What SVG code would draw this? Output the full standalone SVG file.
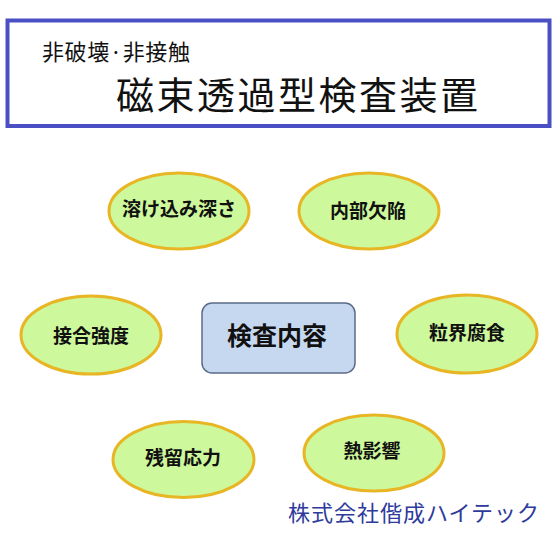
<svg xmlns="http://www.w3.org/2000/svg" width="560" height="560" viewBox="0 0 560 560">
<style>
  text { font-family: "Noto Sans CJK JP", "Noto Sans", sans-serif; }
  .item ellipse { fill: #cdf89b; stroke: #e8b624; stroke-width: 3; }
  .item text { font-size: 19px; font-weight: bold; fill: #111; text-anchor: middle; }
</style>
<rect width="560" height="560" fill="#ffffff"/>
<g id="title">
  <rect x="7.5" y="20.5" width="542" height="105.5" fill="#ffffff" stroke="#4a50c4" stroke-width="4"/>
  <text x="42" y="60" font-size="22" letter-spacing="0.6" fill="#111">非破壊·非接触</text>
  <text x="116" y="109" font-size="38" letter-spacing="2.5" fill="#111">磁束透過型検査装置</text>
</g>
<g id="connectors"></g>
<g id="center">
  <rect x="202" y="303" width="153" height="70" rx="10" fill="#c6d8f0" stroke="#5b6b88" stroke-width="1.5"/>
  <text x="277" y="345" font-size="25" font-weight="bold" fill="#111" text-anchor="middle">検査内容</text>
</g>
<g id="n1" class="item">
  <ellipse cx="179" cy="211" rx="70" ry="38"/>
  <text x="179" y="216">溶け込み深さ</text>
</g>
<g id="n2" class="item">
  <ellipse cx="369" cy="211" rx="70" ry="38"/>
  <text x="368" y="218">内部欠陥</text>
</g>
<g id="n3" class="item">
  <ellipse cx="91" cy="335" rx="70" ry="39"/>
  <text x="91" y="343">接合強度</text>
</g>
<g id="n4" class="item">
  <ellipse cx="467" cy="334" rx="70" ry="39"/>
  <text x="467" y="340">粒界腐食</text>
</g>
<g id="n5" class="item">
  <ellipse cx="183.5" cy="459.5" rx="70.5" ry="38"/>
  <text x="183" y="465">残留応力</text>
</g>
<g id="n6" class="item">
  <ellipse cx="374" cy="453" rx="70" ry="38"/>
  <text x="372" y="458">熱影響</text>
</g>
<g id="company">
  <text x="288" y="521" font-size="22" letter-spacing="1" fill="#2e3a9c">株式会社偕成ハイテック</text>
</g>
</svg>
